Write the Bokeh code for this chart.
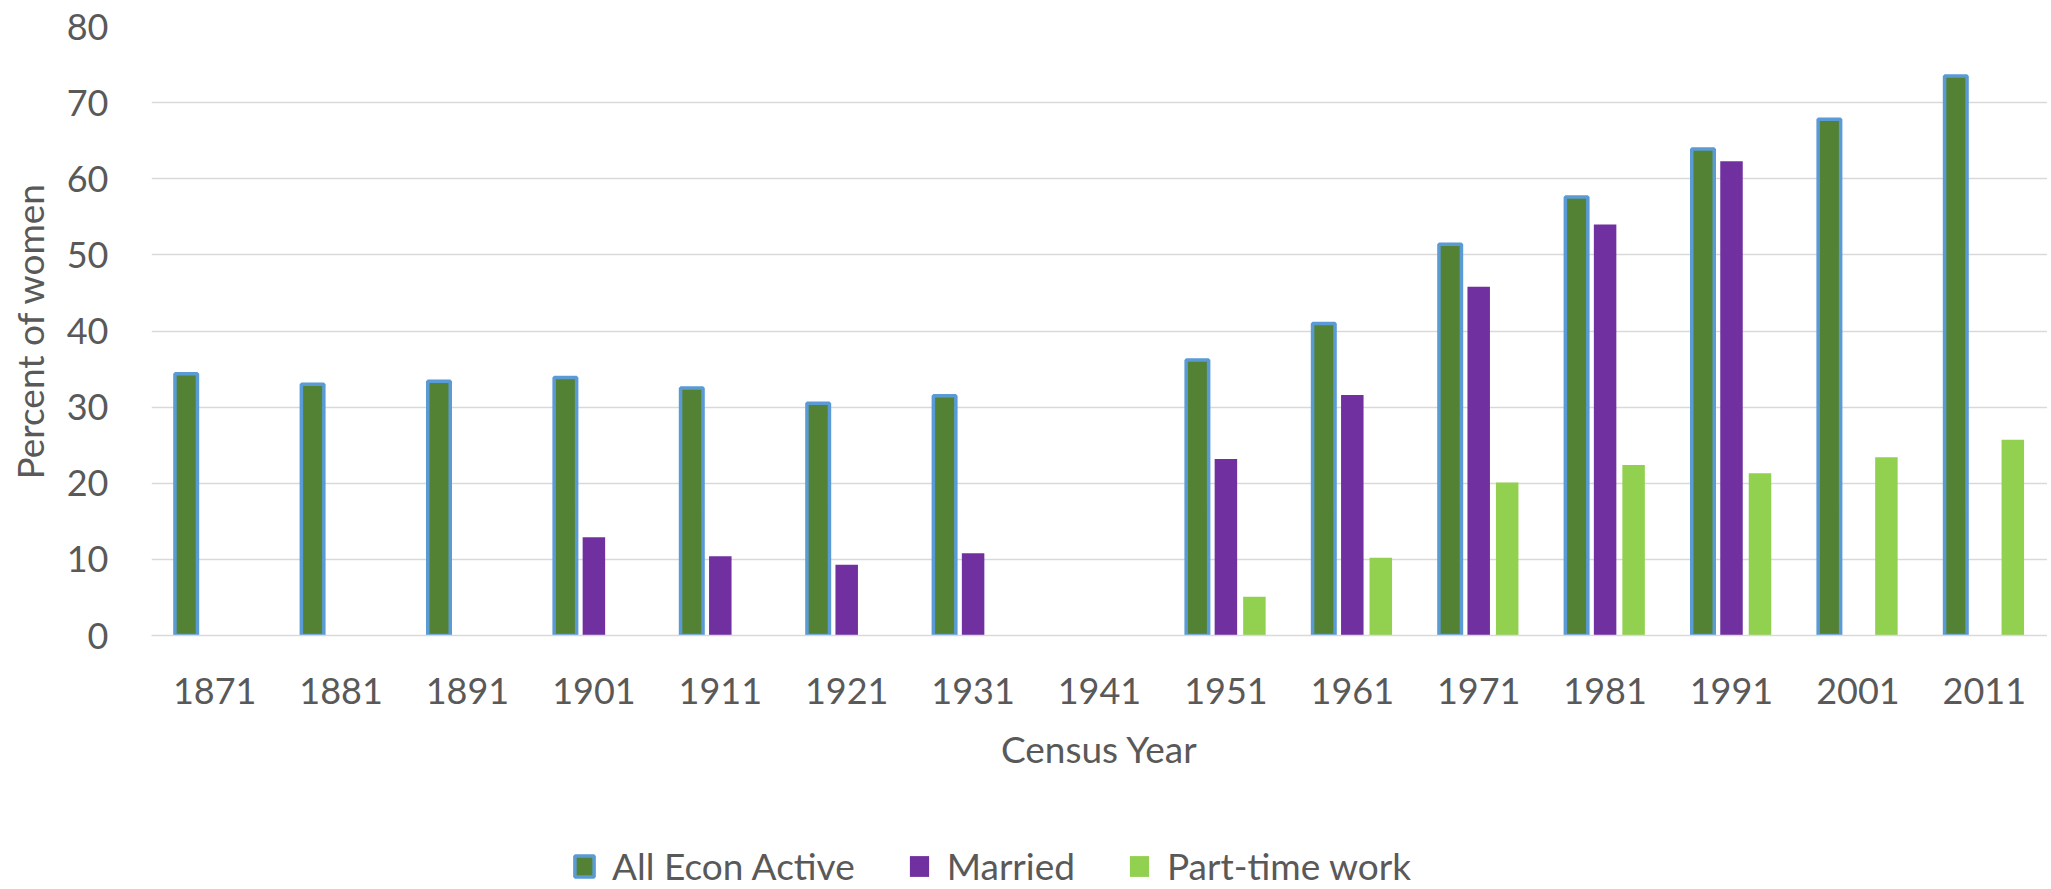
from bokeh.plotting import figure
from bokeh.layouts import column
from bokeh.models import ColumnDataSource, Legend, LegendItem, SingleIntervalTicker
from bokeh.transform import dodge
from bokeh.embed import file_html
from bokeh.resources import INLINE

# ---- data ----
years = ["1871", "1881", "1891", "1901", "1911", "1921", "1931", "1941",
         "1951", "1961", "1971", "1981", "1991", "2001", "2011"]
all_econ_active = [34.4, 33.0, 33.4, 33.9, 32.5, 30.5, 31.5, None,
                   36.2, 41.0, 51.4, 57.6, 63.9, 67.8, 73.5]
married = [None, None, None, 12.9, 10.4, 9.3, 10.8, None,
           23.2, 31.6, 45.8, 54.0, 62.3, None, None]
part_time = [None, None, None, None, None, None, None, None,
             5.1, 10.2, 20.1, 22.4, 21.3, 23.4, 25.7]
series_names = ["All Econ Active", "Married", "Part-time work"]
colors = ["#548235", "#7030A0", "#92D050"]
edge = ["#5B9BD5", None, None]

FONT = "Lato"
TXT = "#595959"


def src(vals):
    xs = [y for y, v in zip(years, vals) if v is not None]
    vs = [v for v in vals if v is not None]
    return ColumnDataSource(dict(x=xs, top=vs))


p = figure(x_range=years, y_range=(0, 80),
           frame_width=1896, frame_height=609,
           output_backend="svg", toolbar_location=None,
           min_border_left=151, min_border_right=0, min_border_top=26,
           min_border_bottom=160)
p.outline_line_color = None
p.background_fill_color = "white"
p.border_fill_color = "white"

W = 0.178
OFF = 0.2255
offsets = [-OFF, 0, OFF]
for vals, off, fc, lc in zip([all_econ_active, married, part_time], offsets, colors, edge):
    p.vbar(x=dodge("x", off, range=p.x_range), top="top", bottom=0, width=W,
           source=src(vals), fill_color=fc, line_color=lc,
           line_width=3.5 if lc else 0)

# grid
p.xgrid.grid_line_color = None
p.ygrid.grid_line_color = "#D9D9D9"
p.ygrid.grid_line_width = 1.5

# y axis
p.yaxis.ticker = SingleIntervalTicker(interval=10)
p.yaxis.axis_line_color = None
p.yaxis.major_tick_line_color = None
p.yaxis.minor_tick_line_color = None
p.yaxis.major_tick_out = 0
p.yaxis.major_tick_in = 0
p.yaxis.major_label_text_font = FONT
p.yaxis.major_label_text_font_size = "36px"
p.yaxis.major_label_text_color = TXT
p.yaxis.major_label_standoff = 39
p.yaxis.axis_label = "Percent of women"
p.yaxis.axis_label_text_font = FONT
p.yaxis.axis_label_text_font_size = "37px"
p.yaxis.axis_label_text_font_style = "normal"
p.yaxis.axis_label_text_color = TXT
p.yaxis.axis_label_standoff = 12

# x axis
p.xaxis.axis_line_color = "#D9D9D9"
p.xaxis.axis_line_width = 1.5
p.xaxis.major_tick_line_color = None
p.xaxis.minor_tick_line_color = None
p.xaxis.major_tick_out = 0
p.xaxis.major_tick_in = 0
p.xaxis.major_label_text_font = FONT
p.xaxis.major_label_text_font_size = "36px"
p.xaxis.major_label_text_color = TXT
p.xaxis.major_label_standoff = 42
p.xaxis.axis_label = "Census Year"
p.xaxis.axis_label_text_font = FONT
p.xaxis.axis_label_text_font_size = "37px"
p.xaxis.axis_label_text_font_style = "normal"
p.xaxis.axis_label_text_color = TXT
p.xaxis.axis_label_standoff = 19

# ---- legend strip (its frame is aligned with the chart frame) ----
lf = figure(width=2047, height=93, x_range=(0, 1), y_range=(0, 1),
            x_axis_type=None, y_axis_type=None,
            output_backend="svg", toolbar_location=None, min_border=0)
lf.outline_line_color = None
lf.xgrid.visible = False
lf.ygrid.visible = False
items = []
for name, fc, lc in zip(series_names, colors, edge):
    # placeholder renderer without drawable data, only used for the legend swatch
    r = lf.vbar(x=[0.5], top=[float("nan")], bottom=[float("nan")], width=0.1,
                fill_color=fc, line_color=lc, line_width=3.5 if lc else 0)
    items.append(LegendItem(label=name, renderers=[r]))

legend = Legend(items=items, orientation="horizontal", location=(421, 0))
legend.label_text_font = FONT
legend.label_text_font_size = "37px"
legend.label_text_color = TXT
legend.glyph_width = 24
legend.glyph_height = 26
legend.label_standoff = 16
legend.spacing = 52
legend.padding = 0
legend.margin = 0
legend.border_line_color = None
legend.background_fill_alpha = 0
lf.add_layout(legend, "center")

layout = column(p, lf, spacing=0)
open("out.html", "w").write(file_html(layout, INLINE))
